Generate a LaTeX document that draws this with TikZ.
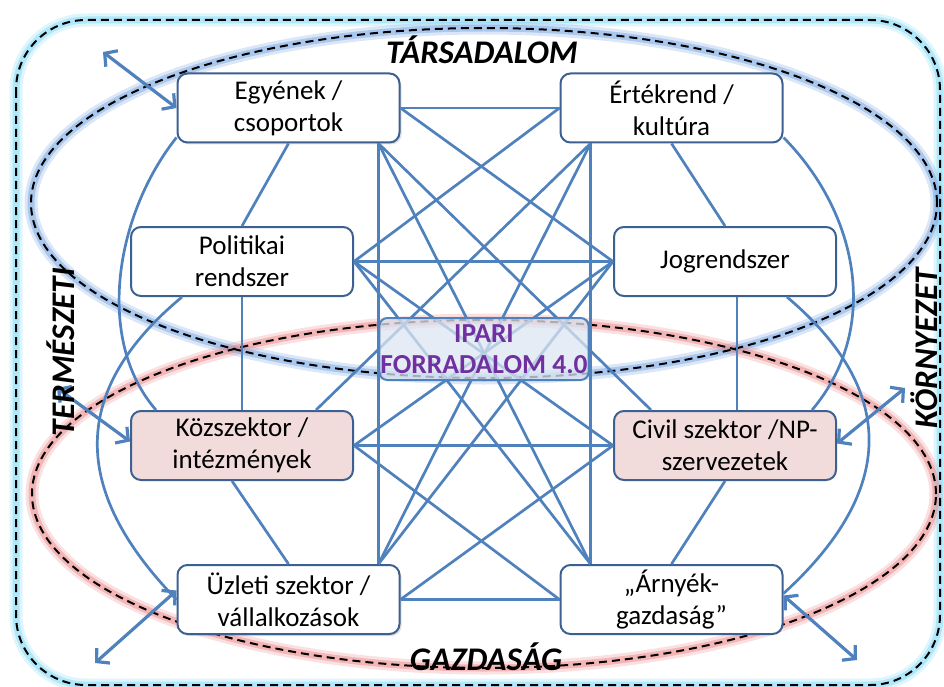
\documentclass[tikz,border=0pt]{standalone}
\usepackage{fontspec}
\setmainfont{Carlito}
\usetikzlibrary{arrows.meta,calc,shadows}
\definecolor{linkblue}{RGB}{79,129,189}
\definecolor{boxblue}{RGB}{60,96,145}
\definecolor{boxpink}{RGB}{242,220,219}
\definecolor{glowcyan}{RGB}{120,215,245}
\definecolor{glowblue}{RGB}{110,160,225}
\definecolor{glowred}{RGB}{235,130,130}
\definecolor{iparifill}{RGB}{220,230,242}
\definecolor{iparitext}{RGB}{112,48,160}
\tikzset{
  sector/.style={draw=boxblue,line width=2pt,rounded corners=10pt,fill=white,
    minimum width=222pt,minimum height=69pt,align=center,inner sep=2pt,
    font=\fontsize{27}{32}\selectfont},
  pinksector/.style={sector,fill=boxpink},
  shadowed/.style={drop shadow={opacity=0.25,shadow xshift=2pt,shadow yshift=-2pt}},
  link/.style={draw=linkblue,line width=2.7pt},
  twoway/.style={draw=linkblue,line width=3.2pt,
    {Straight Barb[length=9pt,width=20pt]}-{Straight Barb[length=9pt,width=20pt]}},
  fence/.style={draw=black,line width=2pt,dash pattern=on 8pt off 5pt},
  realm/.style={font=\fontsize{33}{38}\selectfont\bfseries\itshape},
  ipari/.style={draw=linkblue,line width=2pt,rounded corners=8pt,fill=iparifill,
    fill opacity=0.75,text opacity=1,text=iparitext,minimum width=198pt,
    minimum height=62pt,align=center,inner sep=1pt,
    font=\fontsize{27.5}{31}\selectfont\bfseries},
}

\begin{document}
\begin{tikzpicture}[x=1pt,y=-1pt]
\useasboundingbox (0,0) rectangle (944,687);
% glows and dashed borders:
\foreach \w/\o in {13/0.25,7/0.45} {
  \draw[line width=\w pt,draw=glowcyan,draw opacity=\o,rounded corners=70pt] (16,20) rectangle (940,685);
  \draw[line width=\w pt,draw=glowblue,draw opacity=\o] (484,203) ellipse [x radius=453pt,y radius=175pt];
  \draw[line width=\w pt,draw=glowred,draw opacity=\o] (484,494) ellipse [x radius=452pt,y radius=174pt];
}
\draw[fence,rounded corners=70pt] (16,20) rectangle (940,685);
\draw[fence] (484,203) ellipse [x radius=453pt,y radius=175pt];
\draw[fence] (484,494) ellipse [x radius=452pt,y radius=174pt];

% sectors:
\node[sector,shadowed] (egyen) at (288.5,108) {Egyének /\\csoportok};
\node[sector] (ertek) at (671.5,108) {Értékrend /\\kultúra};
\node[sector] (polit) at (242,261.5) {Politikai\\rendszer};
\node[sector] (jog) at (725,261.5) {Jogrendszer};
\node[pinksector] (kozsz) at (242,445.5) {Közszektor /\\intézmények};
\node[pinksector] (civil) at (725,445.5) {Civil szektor /NP-\\szervezetek};
\node[sector,shadowed] (uzlet) at (288.5,599.5) {Üzleti szektor /\\vállalkozások};
\node[sector] (arnyek) at (671.5,599.5) {„Árnyék-\\gazdaság”};

% anchor points on the box edges:
\coordinate (ebr) at ($(egyen.south east)+(-22,0)$);
\coordinate (ebl) at ($(ertek.south west)+(31,0)$);
\coordinate (utr) at ($(uzlet.north east)+(-22,0)$);
\coordinate (atl) at ($(arnyek.north west)+(31,0)$);
\coordinate (ktr) at ($(kozsz.north east)+(-38,0)$);
\coordinate (ctl) at ($(civil.north west)+(38,0)$);

% links along the sides:
\draw[link] (egyen.south) -- (polit.north);
\draw[link] (polit.south) -- (kozsz.north);
\draw[link] ($(kozsz.south)+(-10,0)$) -- (uzlet.north);
\draw[link] (ertek.south) -- (jog.north);
\draw[link] ($(jog.south)+(12,0)$) -- ($(civil.north)+(12,0)$);
\draw[link] (civil.south) -- (arnyek.north);
\draw[link] ($(egyen.south west)+(0,-6)$) .. controls (115,215) and (95,340) .. ($(kozsz.north west)+(26,0)$);
\draw[link] ($(polit.south west)+(52,0)$) .. controls (70,390) and (70,490) .. (uzlet.west);
\draw[link] ($(ertek.south east)+(0,-6)$) .. controls (860,215) and (880,330) .. ($(civil.north east)+(-25,0)$);
\draw[link] ($(jog.south east)+(-50,0)$) .. controls (897,390) and (897,490) .. ($(arnyek.east)+(0,-6)$);

% links across the middle:
\draw[link] (egyen.east) -- (ertek.west);
\draw[link] (egyen.east) -- (jog.west);
\draw[link] (ertek.west) -- (polit.east);
\draw[link] (polit.east) -- (jog.west);
\draw[link] (polit.east) -- (civil.west);
\draw[link] (polit.east) -- (atl);
\draw[link] (kozsz.east) -- (civil.west);
\draw[link] (kozsz.east) -- (jog.west);
\draw[link] (kozsz.east) -- (arnyek.west);
\draw[link] (uzlet.east) -- (arnyek.west);
\draw[link] (uzlet.east) -- (civil.west);
\draw[link] (ebr) -- (utr);
\draw[link] (ebr) -- (atl);
\draw[link] (ebr) -- (ctl);
\draw[link] (ebl) -- (atl);
\draw[link] (ebl) -- (utr);
\draw[link] (ebl) -- (ktr);
\draw[link] (utr) -- (jog.west);

% links to the surroundings:
\coordinate (nwarr) at (103,52);
\coordinate (warr) at (57,388);
\coordinate (swarr) at (95,663);
\coordinate (earr) at (905,388);
\coordinate (searr) at (857,660);
\draw[twoway] (nwarr) -- (egyen.west);
\draw[twoway] (warr) -- ($(kozsz.west)+(0,-4)$);
\draw[twoway] (swarr) -- ($(uzlet.west)+(0,-9)$);
\draw[twoway] (earr) -- ($(civil.east)+(0,-2)$);
\draw[twoway] (searr) -- ($(arnyek.east)+(0,-4)$);

% centre box and realm labels:
\node[ipari] (ipari) at (484,349) {IPARI\\FORRADALOM 4.0};
\node[realm] (tarsad) at (482,50) {TÁRSADALOM};
\node[realm] (gazd) at (486,657) {GAZDASÁG};
\node[realm,rotate=90] (termesz) at (61,352) {TERMÉSZETI};
\node[realm,rotate=90] (kornyez) at (924,348) {KÖRNYEZET};
\end{tikzpicture}
\end{document}
